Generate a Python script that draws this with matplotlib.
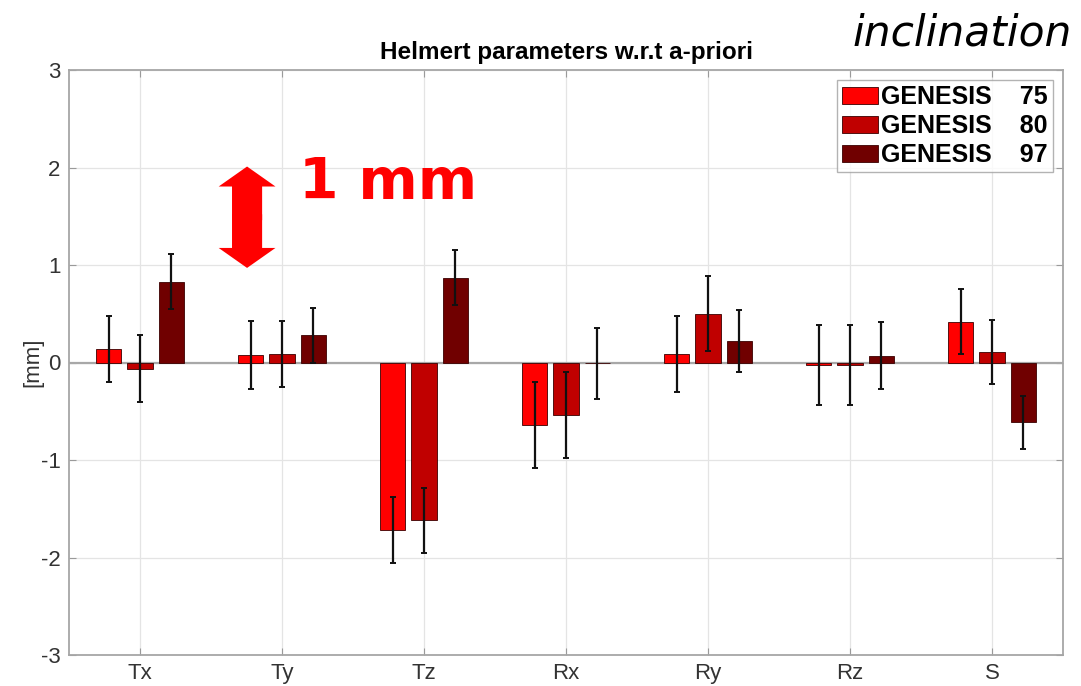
import matplotlib
matplotlib.use("Agg")
import matplotlib.pyplot as plt
import numpy as np
from matplotlib.patches import FancyArrow

# Helmert parameters (mm) for the three GENESIS inclinations
params = ['Tx', 'Ty', 'Tz', 'Rx', 'Ry', 'Rz', 'S']
labels = ['GENESIS    75', 'GENESIS    80', 'GENESIS    97']
val_75 = [0.14, 0.075, -1.72, -0.64, 0.09, -0.03, 0.42]
val_80 = [-0.065, 0.09, -1.62, -0.54, 0.50, -0.03, 0.11]
val_97 = [0.83, 0.28, 0.87, -0.01, 0.22, 0.07, -0.615]
err_75 = [0.34, 0.35, 0.34, 0.44, 0.39, 0.41, 0.335]
err_80 = [0.345, 0.34, 0.335, 0.44, 0.385, 0.41, 0.33]
err_97 = [0.285, 0.28, 0.28, 0.36, 0.32, 0.345, 0.27]
colors = ['#ff0000', '#c00000', '#700000']

plt.rcParams['font.family'] = ['Liberation Sans', 'DejaVu Sans']
plt.rcParams['axes.unicode_minus'] = False

fig = plt.figure(figsize=(10.81, 6.86), dpi=100)
ax = fig.add_axes([69 / 1081, 1 - 655 / 686, 994 / 1081, 585 / 686])

x = np.arange(1, len(params) + 1)
offsets = [-0.22, 0.0, 0.22]
width = 0.177

# grid and the zero baseline go under the bars
ax.set_axisbelow(True)
ax.grid(True, color='#e4e4e4', linewidth=0.9)
ax.axhline(0, color='#a8a8a8', linewidth=1.6, zorder=1.5)

series = [(val_75, err_75), (val_80, err_80), (val_97, err_97)]
for (vals, errs), off, col, lab in zip(series, offsets, colors, labels):
    ax.bar(x + off, vals, width, color=col, edgecolor='#3a0000',
           linewidth=0.6, label=lab, zorder=2)
    ax.errorbar(x + off, vals, yerr=errs, fmt='none', ecolor='#111111',
                elinewidth=1.6, capsize=2.5, capthick=1.4, zorder=3)

ax.set_xlim(0.5, len(params) + 0.5)
ax.set_ylim(-3, 3)
ax.set_xticks(x)
ax.set_xticklabels(params)
ax.set_yticks(np.arange(-3, 4, 1))

ax.tick_params(direction='in', top=True, right=True, length=5,
               color='#9a9a9a', labelsize=16, labelcolor='#333333', pad=6)
for sp in ax.spines.values():
    sp.set_color('#a6a6a6')
    sp.set_linewidth(1.3)

ax.set_ylabel('[mm]', fontsize=16, color='#333333')
ax.yaxis.set_label_coords(-0.026, 0.5)
ax.set_title('Helmert parameters w.r.t a-priori', fontsize=17.5,
             fontweight='bold', pad=8)

leg = ax.legend(loc='upper right', prop={'weight': 'bold', 'size': 18},
                frameon=True, fancybox=False, handlelength=1.45, handleheight=0.7,
                handletextpad=0.12, labelspacing=0.2, borderpad=0.2,
                borderaxespad=0.4)
leg.get_frame().set_edgecolor('#a0a0a0')
leg.get_frame().set_linewidth(1.0)

# 1 mm scale arrow (two heads drawn from the middle, overlapping a bit)
mid = 1.49
half = 0.52
for d in (half, -half):
    start = mid - 0.03 * np.sign(d)
    ax.add_patch(FancyArrow(1.754, start, 0, d + 0.03 * np.sign(d), width=0.212,
                            head_width=0.40, head_length=0.205,
                            length_includes_head=True, color='#ff0000',
                            linewidth=0, zorder=4))

fig.text(299 / 1081, 1 - 199 / 686, '1 mm', fontsize=41, fontweight='bold',
         color='#ff0000', family='DejaVu Sans', va='baseline')
fig.text(853 / 1081, 1 - 45 / 686, 'inclination', fontsize=30.5, style='italic',
         family='DejaVu Sans', va='baseline')

fig.savefig('out.png', dpi=100)
